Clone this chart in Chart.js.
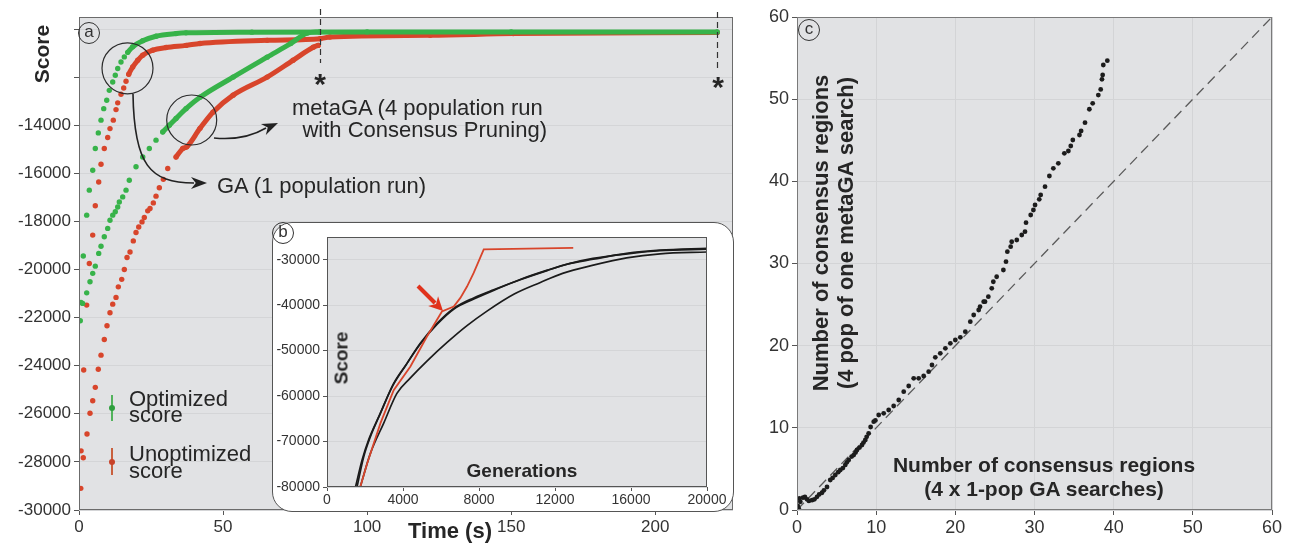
<!DOCTYPE html>
<html>
<head>
<meta charset="utf-8">
<title>GA vs metaGA score convergence</title>
<script src="https://cdn.jsdelivr.net/npm/chart.js@4.4.1/dist/chart.umd.min.js"></script>
<style>
  body { margin:0; background:#fff; font-family:"Liberation Sans", Arial, Helvetica, sans-serif; }
  #wrap { position:relative; width:1305px; height:544px; overflow:hidden; }
  canvas { position:absolute; }
  .txt { position:absolute; white-space:nowrap; color:#262626; line-height:1; }
  .c { transform:translate(-50%,-50%); }
  .v { transform:translate(-50%,-50%) rotate(-90deg); }
  .tag { position:absolute; width:20px; height:20px; border:1.2px solid #333; border-radius:50%;
         font-size:17px; line-height:18px; text-align:center; color:#333; transform:translate(-50%,-50%); }
  #box { position:absolute; left:272px; top:222px; width:462px; height:290px; box-sizing:border-box;
         background:#fff; border:1.5px solid #555; border-radius:20px; }
</style>
</head>
<body>
<div id="wrap">
  <canvas id="chartA" width="745" height="544" style="left:0;top:0"></canvas>
  <div id="box"></div>
  <canvas id="chartB" width="461" height="290" style="left:272px;top:222px"></canvas>
  <canvas id="chartC" width="545" height="544" style="left:760px;top:0"></canvas>

  <!-- panel a text -->
  <div class="tag" style="left:89px;top:33px">a</div>
  <div class="txt v" style="left:41px;top:54px;font-weight:bold;font-size:21px">Score</div>
  <div class="txt c" style="left:450px;top:531px;font-weight:bold;font-size:22px">Time (s)</div>
  <div class="txt" style="left:292px;top:97px;font-size:22px">metaGA (4 population run</div>
  <div class="txt" style="right:758px;top:119px;font-size:22px">with Consensus Pruning)</div>
  <div class="txt" style="left:217px;top:175px;font-size:22px">GA (1 population run)</div>
  <div class="txt c" style="left:320px;top:84px;font-weight:bold;font-size:30px">*</div>
  <div class="txt c" style="left:718px;top:87px;font-weight:bold;font-size:30px">*</div>

  <div style="position:absolute;left:111px;top:395px;width:2px;height:26px;background:#52b35c"></div>
  <div style="position:absolute;left:109px;top:405px;width:6px;height:6px;border-radius:50%;background:#2f9f3e"></div>
  <div class="txt" style="left:129px;top:391px;font-size:22px;line-height:16px">Optimized<br>score</div>
  <div style="position:absolute;left:111px;top:448px;width:2px;height:27px;background:#c9603e"></div>
  <div style="position:absolute;left:109px;top:459px;width:6px;height:6px;border-radius:50%;background:#c8432a"></div>
  <div class="txt" style="left:129px;top:446px;font-size:22px;line-height:16.5px">Unoptimized<br>score</div>

  <!-- panel b text -->
  <div class="tag" style="left:283px;top:233px">b</div>
  <div class="txt c" style="left:522px;top:470px;font-weight:bold;font-size:19px">Generations</div>
  <div class="txt v" style="left:341px;top:358px;font-weight:bold;font-size:19px">Score</div>

  <!-- panel c text -->
  <div class="tag" style="left:809px;top:30px">c</div>
  <div class="txt c" style="left:1044px;top:464px;font-weight:bold;font-size:21px">Number of consensus regions</div>
  <div class="txt c" style="left:1044px;top:488px;font-weight:bold;font-size:21px">(4 x 1-pop GA searches)</div>
  <div class="txt v" style="left:821px;top:233px;font-weight:bold;font-size:22px">Number of consensus regions</div>
  <div class="txt v" style="left:846px;top:233px;font-weight:bold;font-size:22px">(4 pop of one metaGA search)</div>
</div>

<script>
// ---- panel a: score vs time (s) ----
const timeTicks  = [0, 50, 100, 150, 200];
const scoreTicks = [-30000, -28000, -26000, -24000, -22000, -20000, -18000, -16000, -14000, -12000, -10000];

const gaOptTime  = [0.45,0.69,1.49,2.67,3.58,4.76,5.66,6.70,7.64,8.58,9.62,10.52,11.70,12.60,13.44,14.58,15.73,16.91,18.64,22.12,26.73,33.68,37.15,60,100,150,221.5];
const gaOptScore = [-22130,-21370,-19440,-17740,-16700,-15870,-14970,-14320,-13790,-13310,-12960,-12550,-12200,-11920,-11640,-11370,-11160,-10970,-10740,-10490,-10300,-10190,-10160,-10130,-10120,-10120,-10120];

const gaUnoptTime  = [0.62,0.72,1.49,1.63,2.67,3.58,4.76,5.66,6.84,7.64,8.78,9.96,10.76,11.91,12.85,13.44,14.58,15.52,16.32,17.26,18.64,20.38,22.12,25.59,30.21,37.15,42.0,65.3,83.7,87.1,121.9,150.7,221.5];
const gaUnoptScore = [-29100,-27540,-27830,-24180,-21480,-19750,-18570,-17350,-16360,-15620,-14970,-14510,-14140,-13790,-13350,-13070,-12710,-12450,-12170,-11880,-11580,-11300,-11090,-10880,-10770,-10680,-10600,-10470,-10400,-10330,-10260,-10190,-10140];

const metaOptTime  = [1.28,2.67,3.82,4.76,5.66,6.84,7.64,8.78,9.96,10.76,11.70,12.60,13.44,13.99,15.17,16.32,17.46,19.79,22.12,24.41,26.73,29.06,31.35,33.68,37.15,42.0,53.5,65.3,73.5,79.2,83.5];
const metaOptScore = [-21410,-20970,-20510,-20160,-19860,-19330,-19030,-18640,-18290,-17950,-17740,-17600,-17400,-17190,-16980,-16700,-16290,-15730,-15320,-14970,-14620,-14280,-14000,-13720,-13310,-12840,-12000,-11170,-10600,-10170,-10120];

const metaUnoptTime  = [2.78,3.82,4.76,5.66,6.70,7.64,8.78,9.72,10.76,11.70,12.85,13.65,14.83,15.73,16.67,17.71,18.85,19.79,20.73,21.87,22.67,23.85,24.65,25.80,26.73,27.88,29.27,30.80,33.68,36.0,37.4,42.0,46.5,53.5,65.3,74.3,81.3,83.0];
const metaUnoptScore = [-26840,-25980,-25460,-24900,-24150,-23560,-22910,-22340,-21800,-21440,-21160,-20720,-20410,-20000,-19500,-19270,-18810,-18460,-18230,-18020,-17840,-17560,-17460,-17230,-16950,-16600,-16250,-15800,-15320,-14970,-14900,-14130,-13460,-12750,-12000,-11300,-10760,-10680];

const stopTimes = [83.7, 221.5];   // run end markers (*)

// ---- panel b (inset): score vs generations ----
const genTicks        = [0, 4000, 8000, 12000, 16000, 20000];
const insetScoreTicks = [-80000, -70000, -60000, -50000, -40000, -30000];
const redGen    = [1750,2100,2810,3510,4390,5260,6050,6670,7020,7370,7720,8250,12960];
const redScore  = [-80000,-75000,-66000,-58700,-53500,-46900,-41400,-40300,-38400,-35900,-32900,-27700,-27400];
const runAGen   = [1580,1930,2280,2810,3510,4210,4910,5790,6670,7720,8770,10170,11580,12630,14015,15770,17530,20000];
const runAScore = [-80000,-73400,-69000,-63800,-57200,-52800,-48400,-44000,-40700,-38400,-36600,-34400,-32400,-31000,-29900,-28600,-27900,-27500];
const runBGen   = [1500,1850,2200,2750,3450,4150,4900,5800,6700,7700,8800,10200,11600,12700,14000,15800,17500,20000];
const runBScore = [-80000,-74000,-69500,-64300,-57800,-53200,-48600,-44200,-40800,-38700,-36700,-34300,-32300,-30900,-29700,-28700,-28000,-27700];
const runCGen   = [1750,2280,2980,3680,4390,5260,6320,7370,8420,9830,11230,12400,14015,15770,17530,20000];
const runCScore = [-80000,-72650,-66000,-59400,-56000,-52300,-48200,-44500,-41300,-37600,-35000,-33000,-31200,-29600,-28700,-28300];

// ---- panel c: consensus regions ----
const regionTicks = [0, 10, 20, 30, 40, 50, 60];
const gaRegions = [0.1,0.21,0.3,0.42,0.76,1.0,1.26,1.5,1.9,2.2,2.53,2.8,3.16,3.4,3.79,4.2,4.5,4.84,5.2,5.47,5.8,6.1,6.3,6.53,6.9,7.16,7.4,7.58,7.9,8.21,8.4,8.63,8.8,9.05,9.3,9.69,9.9,10.32,10.95,11.58,12.21,12.85,13.48,14.11,14.74,15.37,16.0,16.63,17.05,17.47,18.1,18.74,19.37,20.0,20.63,21.26,21.89,22.32,22.95,23.12,23.58,23.75,24.17,24.6,24.8,25.22,26.07,26.4,26.57,26.99,27.12,27.76,28.39,28.8,28.93,29.52,29.86,30.07,30.6,30.78,31.33,31.88,32.38,33.01,33.77,34.28,34.58,34.84,35.68,35.89,36.38,36.93,37.35,38.06,38.36,38.52,38.61,38.69,39.2];
const metaRegions = [0.5,0.2,1.4,1.0,1.5,1.6,1.3,1.1,1.2,1.3,1.6,1.9,2.1,2.4,2.8,3.65,3.9,4.26,4.6,4.87,5.1,5.48,5.8,6.09,6.5,6.69,7.0,7.3,7.6,7.91,8.2,8.52,8.9,9.33,10.1,10.75,10.9,11.56,11.77,12.17,12.66,13.39,14.4,15.09,16.03,16.03,16.31,16.83,17.65,18.58,19.07,19.68,20.29,20.69,21.02,21.7,22.92,23.73,24.34,24.74,25.35,25.35,25.96,26.98,27.78,28.39,29.21,30.22,31.44,32.05,32.65,32.86,33.47,33.87,34.97,35.9,36.51,37.12,37.81,38.34,39.35,40.65,41.58,42.19,43.41,43.69,44.3,45.03,45.64,46.13,47.14,48.77,49.5,50.5,51.19,52.41,52.94,54.16,54.68];
const diagonal = [0, 60];

const FONT = '"Liberation Sans", Arial, Helvetica, sans-serif';
Chart.defaults.font.family = FONT;
Chart.defaults.color = '#333';

const green = '#37b34a', red = '#d8452b', bg = '#e1e2e4';

function pts(xs, ys) { return xs.map((x, i) => ({ x: x, y: ys[i] })); }
function fixTicks(values) { return s => { s.ticks = values.map(v => ({ value: v })); }; }

// dots far apart stay dots, once they bunch up they read as a thick line
function joinFrom(t0, col) {
  return { borderColor: c => (c.p0.parsed.x >= t0 ? col : 'rgba(0,0,0,0)') };
}

const plotFrame = {
  id: 'plotFrame',
  beforeDraw(chart, args, o) {
    const { ctx, chartArea: a } = chart;
    ctx.save();
    ctx.fillStyle = o.bg;
    ctx.fillRect(a.left, a.top, a.width, a.height);
    ctx.restore();
  },
  afterDraw(chart, args, o) {
    const { ctx, chartArea: a } = chart;
    ctx.save();
    ctx.strokeStyle = o.line;
    ctx.lineWidth = 1;
    ctx.strokeRect(a.left + 0.5, a.top + 0.5, a.width - 1, a.height - 1);
    ctx.restore();
  }
};

function arrowHead(ctx, x, y, ang, len, wid) {
  ctx.beginPath();
  ctx.moveTo(x, y);
  ctx.lineTo(x - len * Math.cos(ang) + wid * Math.sin(ang), y - len * Math.sin(ang) - wid * Math.cos(ang));
  ctx.lineTo(x - len * 0.7 * Math.cos(ang), y - len * 0.7 * Math.sin(ang));
  ctx.lineTo(x - len * Math.cos(ang) - wid * Math.sin(ang), y - len * Math.sin(ang) + wid * Math.cos(ang));
  ctx.closePath();
  ctx.fill();
}

const panelANotes = {
  id: 'panelANotes',
  afterDraw(chart) {
    const ctx = chart.ctx, xs = chart.scales.x;
    ctx.save();
    // end-of-run dashed markers
    ctx.strokeStyle = '#333';
    ctx.lineWidth = 1.2;
    ctx.setLineDash([6, 4]);
    const tops = [[9, 63], [12, 72]];
    stopTimes.forEach((t, i) => {
      const px = Math.round(xs.getPixelForValue(t)) + 0.5;
      ctx.beginPath(); ctx.moveTo(px, tops[i][0]); ctx.lineTo(px, tops[i][1]); ctx.stroke();
    });
    ctx.setLineDash([]);
    // circles around the two run families
    ctx.strokeStyle = '#2b2b2b';
    ctx.lineWidth = 1.2;
    ctx.beginPath(); ctx.arc(127.5, 68.3, 25.5, 0, Math.PI * 2); ctx.stroke();
    ctx.beginPath(); ctx.arc(191.7, 120, 25, 0, Math.PI * 2); ctx.stroke();
    // curved call-out arrows
    ctx.lineWidth = 1.6;
    ctx.fillStyle = '#222';
    ctx.strokeStyle = '#222';
    ctx.beginPath(); ctx.moveTo(133, 94); ctx.bezierCurveTo(134, 165, 150, 183, 194, 183); ctx.stroke();
    arrowHead(ctx, 207, 183, 0, 16, 6);
    ctx.beginPath(); ctx.moveTo(214, 138); ctx.quadraticCurveTo(244, 141, 266, 128); ctx.stroke();
    arrowHead(ctx, 278, 123, -0.42, 16, 6);
    ctx.restore();
  }
};

const insetArrow = {
  id: 'insetArrow',
  afterDraw(chart) {
    const ctx = chart.ctx;
    ctx.save();
    ctx.strokeStyle = '#e0321c';
    ctx.fillStyle = '#e0321c';
    ctx.lineWidth = 4;
    ctx.beginPath(); ctx.moveTo(146, 64); ctx.lineTo(163, 81); ctx.stroke();
    arrowHead(ctx, 171, 89, Math.PI / 4, 14, 7);
    ctx.restore();
  }
};

function dotted(label, xs, ys, col, t0) {
  return { label: label, data: pts(xs, ys), showLine: true, borderWidth: 5,
           borderColor: col, backgroundColor: col, pointRadius: 2.7, pointBorderWidth: 0,
           cubicInterpolationMode: 'monotone', borderCapStyle: 'round', borderJoinStyle: 'round',
           segment: joinFrom(t0, col) };
}

// PANEL A
new Chart(document.getElementById('chartA'), {
  type: 'scatter',
  data: {
    datasets: [
      dotted('GA optimized', gaOptTime, gaOptScore, green, 16.5),
      dotted('metaGA optimized', metaOptTime, metaOptScore, green, 28),
      dotted('GA unoptimized', gaUnoptTime, gaUnoptScore, red, 16.9),
      dotted('metaGA unoptimized', metaUnoptTime, metaUnoptScore, red, 31)
    ]
  },
  options: {
    responsive: false,
    animation: false,
    events: [],
    layout: { padding: { top: 17, right: 12, left: 0, bottom: 0 } },
    scales: {
      x: {
        type: 'linear', min: 0, max: 227,
        afterFit: s => { s.height = 34; },
        afterBuildTicks: fixTicks(timeTicks),
        border: { display: false },
        grid: { drawOnChartArea: false, tickLength: 5, tickColor: '#555' },
        ticks: { autoSkip: false, maxRotation: 0, padding: 2, color: '#333',
                 font: { size: 17 }, callback: v => String(v) }
      },
      y: {
        min: -30000, max: -9500,
        afterFit: s => { s.width = 79; },
        afterBuildTicks: fixTicks(scoreTicks),
        border: { display: false },
        grid: { color: '#d4d5d7', tickLength: 5, tickColor: '#555' },
        ticks: { autoSkip: false, padding: 3, color: '#333',
                 font: { size: 17 }, callback: v => (v <= -14000 ? String(v) : '') }
      }
    },
    plugins: { legend: { display: false }, tooltip: { enabled: false },
               plotFrame: { bg: bg, line: '#6b6b6b' } }
  },
  plugins: [plotFrame, panelANotes]
});

// PANEL B (inset)
function runLine(label, xs, ys, col, w) {
  return { label: label, data: pts(xs, ys), showLine: true, borderColor: col, borderWidth: w,
           pointRadius: 0, cubicInterpolationMode: 'monotone' };
}
new Chart(document.getElementById('chartB'), {
  type: 'scatter',
  data: {
    datasets: [
      { label: 'metaGA', data: pts(redGen, redScore), showLine: true, borderColor: red, borderWidth: 1.8, pointRadius: 0 },
      runLine('GA run 1', runAGen, runAScore, '#1b1b1b', 1.7),
      runLine('GA run 2', runBGen, runBScore, '#1b1b1b', 1.7),
      runLine('GA run 3', runCGen, runCScore, '#1b1b1b', 1.7)
    ]
  },
  options: {
    responsive: false,
    animation: false,
    events: [],
    layout: { padding: { top: 15, right: 26, left: 0, bottom: 0 } },
    scales: {
      x: {
        type: 'linear', min: 0, max: 20000,
        afterFit: s => { s.height = 25; },
        afterBuildTicks: fixTicks(genTicks),
        border: { display: false },
        grid: { drawOnChartArea: false, tickLength: 4, tickColor: '#555' },
        ticks: { autoSkip: false, maxRotation: 0, padding: 1, color: '#333',
                 font: { size: 14 }, callback: v => String(v) }
      },
      y: {
        min: -80000, max: -25000,
        afterFit: s => { s.width = 55; },
        afterBuildTicks: fixTicks(insetScoreTicks),
        border: { display: false },
        grid: { color: '#d4d5d7', tickLength: 4, tickColor: '#555' },
        ticks: { autoSkip: false, padding: 3, color: '#333',
                 font: { size: 14 }, callback: v => String(v) }
      }
    },
    plugins: { legend: { display: false }, tooltip: { enabled: false },
               plotFrame: { bg: bg, line: '#555' } }
  },
  plugins: [plotFrame, insetArrow]
});

// PANEL C
new Chart(document.getElementById('chartC'), {
  type: 'scatter',
  data: {
    datasets: [
      { label: 'regions', data: pts(gaRegions, metaRegions), backgroundColor: '#1c1c1c',
        pointRadius: 2.4, pointBorderWidth: 0 },
      { label: 'y = x', data: pts(diagonal, diagonal), showLine: true, borderColor: '#5a5a5a',
        borderWidth: 1.3, borderDash: [10, 6], pointRadius: 0 }
    ]
  },
  options: {
    responsive: false,
    animation: false,
    events: [],
    layout: { padding: { top: 17, right: 33, left: 0, bottom: 0 } },
    scales: {
      x: {
        type: 'linear', min: 0, max: 60,
        afterFit: s => { s.height = 34; },
        afterBuildTicks: fixTicks(regionTicks),
        border: { display: false },
        grid: { color: '#d3d4d6', tickLength: 5, tickColor: '#555' },
        ticks: { autoSkip: false, maxRotation: 0, padding: 2, color: '#333', font: { size: 18 } }
      },
      y: {
        min: 0, max: 60,
        afterFit: s => { s.width = 37; },
        afterBuildTicks: fixTicks(regionTicks),
        border: { display: false },
        grid: { color: '#d3d4d6', tickLength: 5, tickColor: '#555' },
        ticks: { autoSkip: false, padding: 3, color: '#333', font: { size: 18 } }
      }
    },
    plugins: { legend: { display: false }, tooltip: { enabled: false },
               plotFrame: { bg: bg, line: '#7a7a7a' } }
  },
  plugins: [plotFrame]
});
</script>
</body>
</html>
